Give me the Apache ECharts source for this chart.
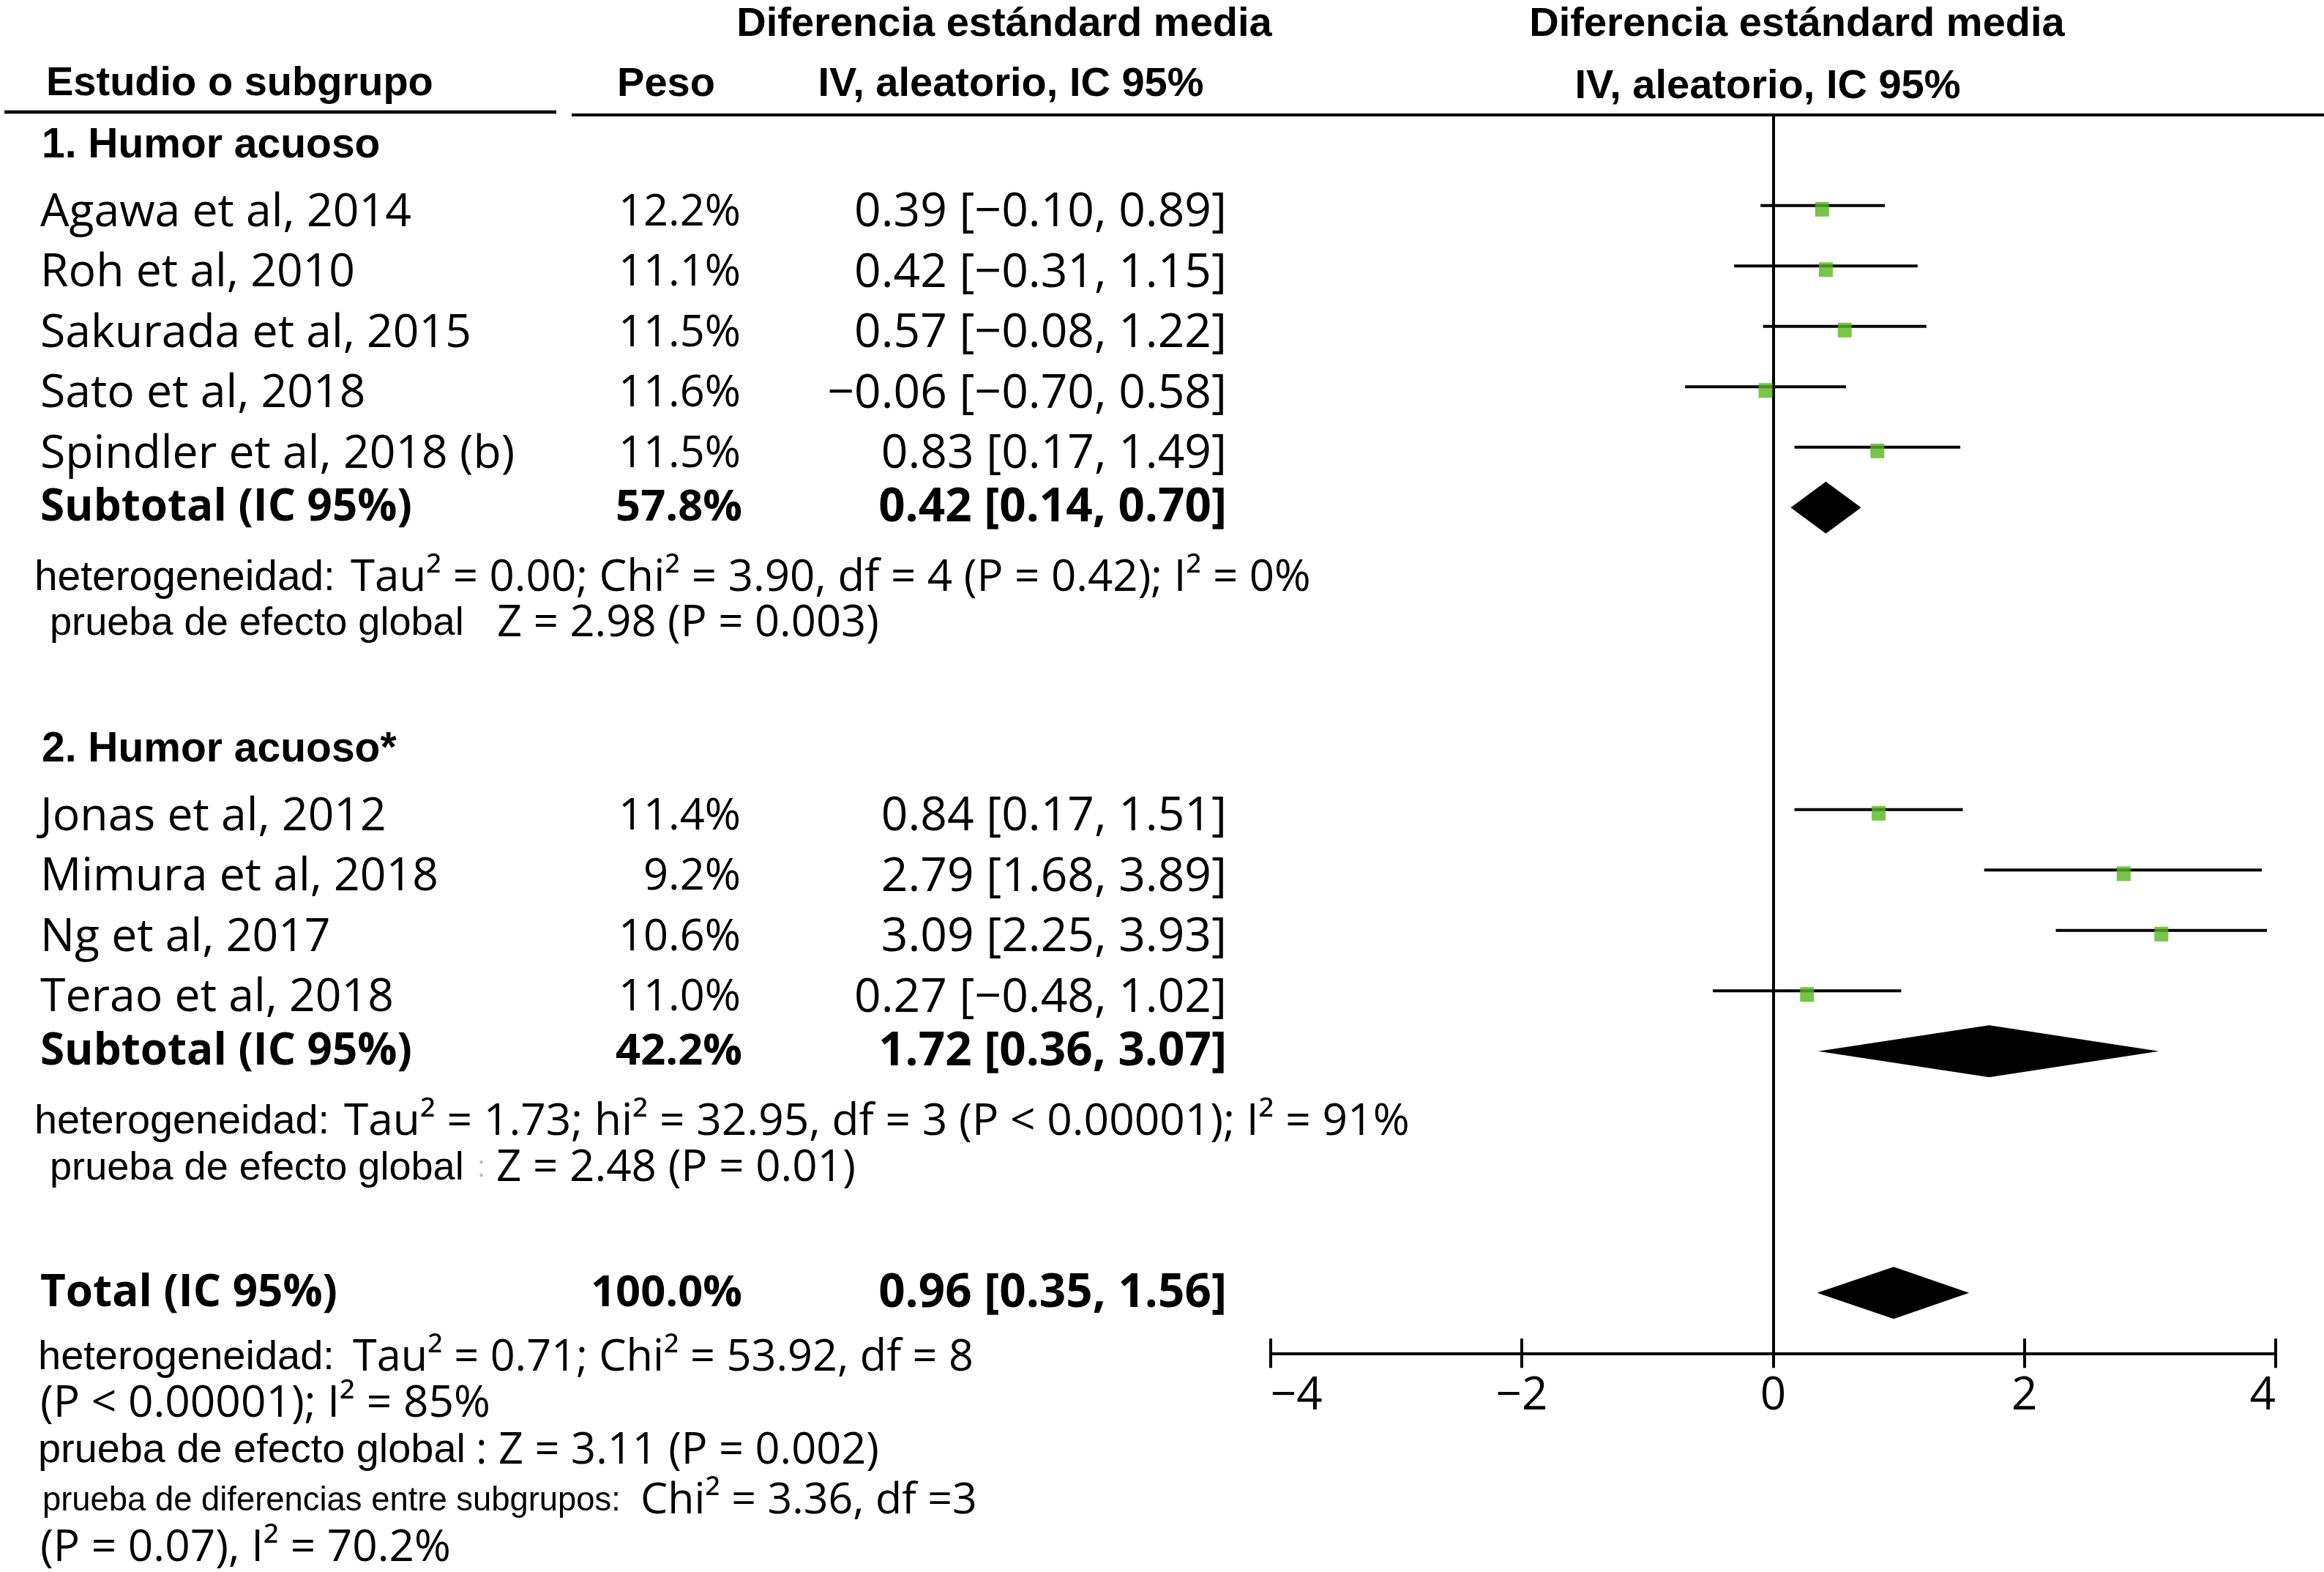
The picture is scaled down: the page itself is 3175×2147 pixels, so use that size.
<!DOCTYPE html>
<html><head><meta charset="utf-8">
<script src="https://cdn.jsdelivr.net/npm/echarts@6/dist/echarts.min.js"></script>
<style>html,body{margin:0;padding:0;background:#fff}#c{width:3175px;height:2147px}</style>
</head><body><div id="c"></div>
<script>
// ---------------- data ----------------
const studyNames = ['Agawa et al, 2014', 'Roh et al, 2010', 'Sakurada et al, 2015', 'Sato et al, 2018',
  'Spindler et al, 2018 (b)', 'Jonas et al, 2012', 'Mimura et al, 2018', 'Ng et al, 2017', 'Terao et al, 2018'];
const studyRows = [0, 1, 2, 3, 4, 10, 11, 12, 13];
const studyWeights = [12.2, 11.1, 11.5, 11.6, 11.5, 11.4, 9.2, 10.6, 11.0];
const studySMD = [0.39, 0.42, 0.57, -0.06, 0.83, 0.84, 2.79, 3.09, 0.27];
const studyLow = [-0.10, -0.31, -0.08, -0.70, 0.17, 0.17, 1.68, 2.25, -0.48];
const studyHigh = [0.89, 1.15, 1.22, 0.58, 1.49, 1.51, 3.89, 3.93, 1.02];

const pooledNames = ['Subtotal (IC 95%)', 'Subtotal (IC 95%)', 'Total (IC 95%)'];
const pooledRows = [5, 14, 18];
const pooledWeights = [57.8, 42.2, 100.0];
const pooledSMD = [0.42, 1.72, 0.96];
const pooledLow = [0.14, 0.36, 0.35];
const pooledHigh = [0.70, 3.07, 1.56];

const groupTitles = ['1. Humor acuoso', '2. Humor acuoso*'];
const groupRows = [-1, 9];

const xTicks = [-4, -2, 0, 2, 4];

const headerTexts = ['Diferencia estándard media', 'Estudio o subgrupo', 'Peso', 'IV, aleatorio, IC 95%'];

const statTexts = [
  ['heterogeneidad:', 'Tau² = 0.00; Chi² = 3.90, df = 4 (P = 0.42); I² = 0%'],
  ['prueba de efecto global', 'Z = 2.98 (P = 0.003)'],
  ['heterogeneidad:', 'Tau² = 1.73; hi² = 32.95, df = 3 (P < 0.00001); I² = 91%'],
  ['prueba de efecto global', 'Z = 2.48 (P = 0.01)'],
  ['heterogeneidad:', 'Tau² = 0.71; Chi² = 53.92, df = 8'],
  ['', '(P < 0.00001); I² = 85%'],
  ['prueba de efecto global', ': Z = 3.11 (P = 0.002)'],
  ['prueba de diferencias entre subgrupos:', 'Chi² = 3.36, df =3'],
  ['', '(P = 0.07), I² = 70.2%']
];

// ---------------- helpers ----------------
const SANS = "'Liberation Sans', Arial, sans-serif";
const HUM = "'Open Sans', 'Noto Sans', sans-serif";
const mctx = document.createElement('canvas').getContext('2d');
function fit(text, weight, family, width) {
  mctx.font = weight + ' 100px ' + family;
  return 100 * width / mctx.measureText(text).width;
}
const num = v => v.toFixed(2).replace('-', '\u2212');
const ciText = (m, l, h) => num(m) + ' [' + num(l) + ', ' + num(h) + ']';
const pct = v => v.toFixed(1) + '%';

// ---------------- layout ----------------
const NAME_X = 55, W_RIGHT = 1012, CI_RIGHT = 1676;
const fsName = fit('Agawa et al, 2014', 'normal', HUM, 507);
const fsW = fit('12.2%', 'normal', HUM, 167);
const fsCI = fit(ciText(0.39, -0.10, 0.89), 'normal', HUM, 509);
const fsPName = fit('Subtotal (IC 95%)', 'bold', HUM, 508);
const fsPW = fit('57.8%', 'bold', HUM, 173);
const fsPCI = fit(ciText(0.42, 0.14, 0.70), 'bold', HUM, 476);
const fsHead = 56;

function txt(x, y, text, size, family, weight, align) {
  return { type: 'text', x: x, y: y, silent: true,
    style: { text: text, fontSize: size, fontFamily: family, fontWeight: weight || 'normal',
      fill: '#000', align: align || 'left', verticalAlign: 'middle' } };
}
function fitTxt(x, y, text, width, family, weight, align) {
  return txt(x, y, text, fit(text, weight || 'normal', family, width), family, weight, align);
}

// stat line placements: [yCenter, xA, widthA, xB, widthB]
const statLayout = [
  [790, 47, 411, 479, 1312],
  [852, 68, 566, 679, 522],
  [1533, 47, 403, 470, 1456],
  [1596, 68, 566, 678, 491],
  [1855, 52, 405, 482, 848],
  [1918, 0, 0, 55, 615],
  [1982, 52, 584, 650, 551],
  [2050, 58, 790, 875, 460],
  [2115, 0, 0, 55, 561]
];

const graphics = [
  { type: 'line', silent: true, shape: { x1: 6, y1: 153, x2: 760, y2: 153 }, style: { stroke: '#000', lineWidth: 4.5 } },
  { type: 'line', silent: true, shape: { x1: 781, y1: 157, x2: 3175, y2: 157 }, style: { stroke: '#000', lineWidth: 4 } },
  txt(1372, 34, headerTexts[0], fsHead, SANS, 'bold', 'center'),
  txt(63, 115, headerTexts[1], fsHead, SANS, 'bold', 'left'),
  txt(910, 116, headerTexts[2], fsHead, SANS, 'bold', 'center'),
  txt(1381, 116, headerTexts[3], fsHead, SANS, 'bold', 'center'),
  txt(2455, 34, headerTexts[0], fsHead, SANS, 'bold', 'center'),
  txt(2415, 119, headerTexts[3], fsHead, SANS, 'bold', 'center')
];
statTexts.forEach((s, i) => {
  const L = statLayout[i];
  if (s[0]) graphics.push(fitTxt(L[1], L[0], s[0], L[2], SANS));
  if (s[1]) graphics.push(fitTxt(L[3], L[0], s[1], L[4], HUM));
});
// faint colon in subgroup 2 test line
graphics.push(txt(652, 1596, ':', 40, SANS, 'normal', 'left'));
graphics[graphics.length - 1].style.fill = '#bbb';

// ---------------- chart ----------------
const chart = echarts.init(document.getElementById('c'), null, { renderer: 'canvas' });
const GREEN = '#58B51E';
const baseX = {
  type: 'value', min: xTicks[0], max: xTicks[xTicks.length - 1], interval: xTicks[1] - xTicks[0],
  position: 'bottom', gridIndex: 0, splitLine: { show: false }
};
chart.setOption({
  animation: false,
  backgroundColor: '#fff',
  grid: { left: 1735.7, right: 3175 - 3109, top: 157, bottom: 2147 - 1848.25, containLabel: false },
  xAxis: [
    Object.assign({}, baseX, {
      axisLine: { onZero: false, lineStyle: { color: '#000', width: 4 } },
      axisTick: { show: true, inside: false, length: 20, lineStyle: { color: '#000', width: 4 } },
      axisLabel: { show: true, margin: 28, fontSize: 62, fontFamily: HUM, color: '#000',
        alignMinLabel: 'left', alignMaxLabel: 'right',
        formatter: v => String(v).replace('-', '\u2212') }
    }),
    Object.assign({}, baseX, {
      axisLine: { show: false, onZero: false },
      axisTick: { show: true, inside: true, length: 20, lineStyle: { color: '#000', width: 4 } },
      axisLabel: { show: false }
    })
  ],
  yAxis: {
    type: 'value', min: -1.5, max: 19, inverse: true,
    axisLine: { show: true, onZero: true, onZeroAxisIndex: 0, lineStyle: { color: '#000', width: 4 } },
    axisTick: { show: false }, axisLabel: { show: false }, splitLine: { show: false }
  },
  graphic: graphics,
  series: [
    { // confidence intervals
      type: 'custom', name: 'ci', silent: true, clip: false, z: 2,
      data: studySMD.map((m, i) => [studyLow[i], studyHigh[i], studyRows[i]]),
      encode: { x: [0, 1], y: 2 },
      renderItem: (p, api) => {
        const a = api.coord([api.value(0), api.value(2)]);
        const b = api.coord([api.value(1), api.value(2)]);
        return { type: 'line', shape: { x1: a[0], y1: a[1], x2: b[0], y2: b[1] },
          style: { stroke: '#000', lineWidth: 4 } };
      }
    },
    { // point estimates
      type: 'scatter', name: 'smd', silent: true, z: 3,
      symbol: 'rect', symbolSize: [19, 20], symbolOffset: [0, 5],
      itemStyle: { color: GREEN },
      data: studySMD.map((m, i) => [m, studyRows[i]])
    },
    { // pooled diamonds
      type: 'custom', name: 'pooled', silent: true, clip: false, z: 3,
      data: pooledSMD.map((m, i) => [pooledLow[i], m, pooledHigh[i], pooledRows[i]]),
      encode: { x: [0, 1, 2], y: 3 },
      renderItem: (p, api) => {
        const r = api.value(3);
        const l = api.coord([api.value(0), r]);
        const c = api.coord([api.value(1), r]);
        const h = api.coord([api.value(2), r]);
        const hh = 35.5;
        return { type: 'polygon', shape: { points: [[l[0], l[1]], [c[0], c[1] - hh], [h[0], h[1]], [c[0], c[1] + hh]] },
          style: { fill: '#000' } };
      }
    },
    { // study row text
      type: 'custom', name: 'studyText', silent: true, clip: false, z: 4,
      data: studyNames.map((n, i) => [0, studyRows[i], i]),
      encode: { x: 0, y: 1 },
      renderItem: (p, api) => {
        const i = api.value(2);
        const y = api.coord([0, api.value(1)])[1] + 10;
        return { type: 'group', children: [
          txt(NAME_X, y, studyNames[i], fsName, HUM),
          txt(W_RIGHT, y, pct(studyWeights[i]), fsW, HUM, 'normal', 'right'),
          txt(CI_RIGHT, y, ciText(studySMD[i], studyLow[i], studyHigh[i]), fsCI, HUM, 'normal', 'right')
        ] };
      }
    },
    { // pooled row text
      type: 'custom', name: 'pooledText', silent: true, clip: false, z: 4,
      data: pooledNames.map((n, i) => [0, pooledRows[i], i]),
      encode: { x: 0, y: 1 },
      renderItem: (p, api) => {
        const i = api.value(2);
        const y = api.coord([0, api.value(1)])[1] + 1;
        return { type: 'group', children: [
          txt(NAME_X, y, pooledNames[i], fsPName, HUM, 'bold'),
          txt(W_RIGHT + 2, y, pct(pooledWeights[i]), fsPW, HUM, 'bold', 'right'),
          txt(CI_RIGHT, y, ciText(pooledSMD[i], pooledLow[i], pooledHigh[i]), fsPCI, HUM, 'bold', 'right')
        ] };
      }
    },
    { // group titles
      type: 'custom', name: 'groups', silent: true, clip: false, z: 4,
      data: groupTitles.map((g, i) => [0, groupRows[i], i]),
      encode: { x: 0, y: 1 },
      renderItem: (p, api) => {
        const i = api.value(2);
        const y = api.coord([0, api.value(1)])[1] + 1;
        return txt(57, y, groupTitles[i], 57, SANS, 'bold');
      }
    }
  ]
});
</script></body></html>
